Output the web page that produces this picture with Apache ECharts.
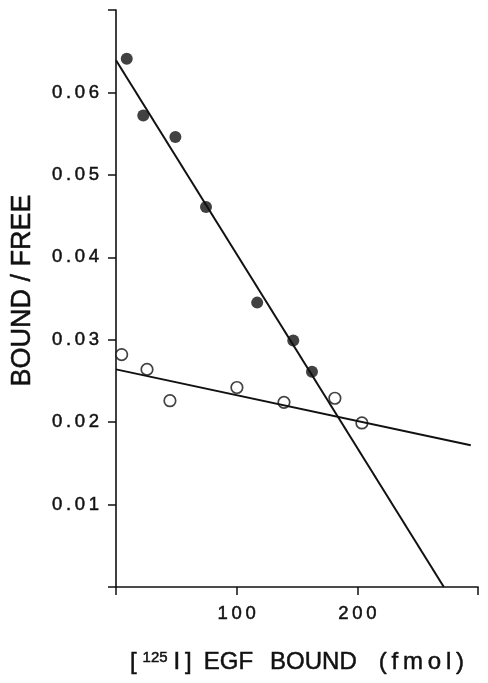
<!DOCTYPE html>
<html>
<head>
<meta charset="utf-8">
<script src="https://cdn.jsdelivr.net/npm/echarts@6/dist/echarts.min.js"></script>
<style>
  html, body { margin: 0; padding: 0; background: #fff; }
  #chart { width: 488px; height: 683px; }
</style>
</head>
<body>
<div id="chart"></div>
<script>
// filled circles (control), [fmol bound, bound/free]
var filledPts = [[8.9, 0.0641], [22.6, 0.0572], [49.2, 0.0546], [74.6, 0.0461],
                 [117, 0.0345], [146.9, 0.0299], [162.4, 0.0261]];
// open circles
var openPts = [[4.7, 0.0282], [25.7, 0.0264], [44.7, 0.0226], [100.2, 0.0242],
               [139.2, 0.0224], [181.4, 0.0229], [203.8, 0.0199]];
// fitted lines (end points)
var steepLine = [[0, 0.0639], [271.7, 0]];
var shallowLine = [[0, 0.0264], [294, 0.0172]];

var xTickLabels = ['100', '200'];
var yTickLabels = ['0.01', '0.02', '0.03', '0.04', '0.05', '0.06'];

var FONT = '"Liberation Sans", Arial, sans-serif';
var INK = '#111';
var THIN = '\u2009';

// the old typeset labels are loosely spaced
function spaced (s) {
  return s.split('').join(THIN);
}

// scanned type looks a bit heavier than a plain regular face
var heavy = { textBorderColor: INK, textBorderWidth: 0.5 };

var chart = echarts.init(document.getElementById('chart'));

chart.setOption({
  backgroundColor: '#fff',
  animation: false,
  grid: { left: 116, right: 10, top: 10, bottom: 96 },
  xAxis: {
    type: 'value',
    min: 0,
    max: 300,
    interval: 100,
    splitLine: { show: false },
    axisLine: { onZero: false, lineStyle: { color: INK, width: 1.6 } },
    axisTick: { length: 8, lineStyle: { color: INK, width: 1.5 } },
    axisLabel: Object.assign({
      margin: 17,
      color: INK,
      fontFamily: FONT,
      fontSize: 18.5,
      formatter: function (v) {
        var s = String(Math.round(v));
        return xTickLabels.indexOf(s) >= 0 ? spaced(s) : '';
      }
    }, heavy),
    name: '{n|[}{s|125}{n|I' + THIN + ']}{a|EGF}{b|BOUND}{c|' + spaced('(fmol)') + '}',
    nameLocation: 'middle',
    nameGap: 63,
    nameTextStyle: {
      rich: {
        n: Object.assign({ fontFamily: FONT, fontSize: 24, color: INK }, heavy),
        s: Object.assign({ fontFamily: FONT, fontSize: 15, color: INK, padding: [0, 6, 10, 6] }, heavy),
        a: Object.assign({ fontFamily: FONT, fontSize: 24, color: INK, padding: [0, 0, 0, 12] }, heavy),
        b: Object.assign({ fontFamily: FONT, fontSize: 24, color: INK, padding: [0, 0, 0, 17] }, heavy),
        c: Object.assign({ fontFamily: FONT, fontSize: 24, color: INK, padding: [0, 0, 0, 22] }, heavy)
      }
    }
  },
  yAxis: {
    type: 'value',
    min: 0,
    max: 0.07,
    interval: 0.01,
    splitLine: { show: false },
    axisLine: { show: true, lineStyle: { color: INK, width: 1.6 } },
    axisTick: { show: true, length: 8, lineStyle: { color: INK, width: 1.5 } },
    axisLabel: Object.assign({
      margin: 17,
      color: INK,
      fontFamily: FONT,
      fontSize: 18.5,
      formatter: function (v) {
        var s = v.toFixed(2);
        return yTickLabels.indexOf(s) >= 0 ? spaced(s) : '';
      }
    }, heavy),
    name: 'BOUND / FREE',
    nameLocation: 'middle',
    nameRotate: 90,
    nameGap: 80,
    nameTextStyle: Object.assign({
      fontFamily: FONT, fontSize: 27, color: INK, padding: [0, 0, 0, 16]
    }, heavy)
  },
  series: [
    {
      type: 'line',
      data: steepLine,
      symbol: 'none',
      lineStyle: { color: INK, width: 2 },
      silent: true
    },
    {
      type: 'line',
      data: shallowLine,
      symbol: 'none',
      lineStyle: { color: INK, width: 2 },
      silent: true
    },
    {
      type: 'scatter',
      data: filledPts,
      symbol: 'circle',
      symbolSize: 12,
      itemStyle: { color: INK }
    },
    {
      type: 'scatter',
      data: openPts,
      symbol: 'circle',
      symbolSize: 11.5,
      itemStyle: { color: '#fff', borderColor: INK, borderWidth: 1.7 }
    }
  ]
});
</script>
</body>
</html>
